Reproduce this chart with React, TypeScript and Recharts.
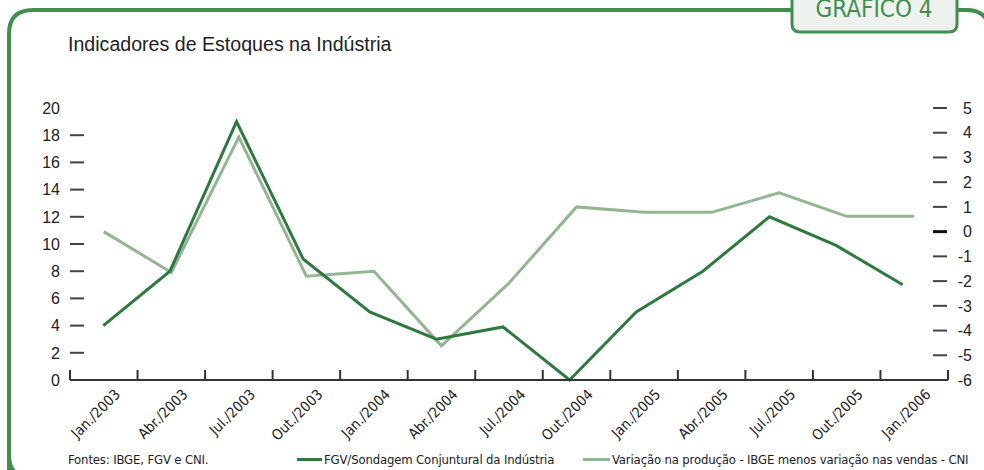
import React from 'react';
import { LineChart, Line, XAxis, YAxis } from 'recharts';

const categories = [
  'Jan./2003', 'Abr./2003', 'Jul./2003', 'Out./2003',
  'Jan./2004', 'Abr./2004', 'Jul./2004', 'Out./2004',
  'Jan./2005', 'Abr./2005', 'Jul./2005', 'Out./2005',
  'Jan./2006',
];

// FGV/Sondagem Conjuntural da Indústria (eixo esquerdo)
const fgvSondagem = [4, 8, 19, 8.9, 5, 3, 3.9, 0, 5, 8, 12, 9.9, 7];
// Variação na produção - IBGE menos variação nas vendas - CNI (eixo direito)
const producaoMenosVendas = [0, -1.65, 3.82, -1.8, -1.6, -4.62, -2.08, 1.0, 0.78, 0.78, 1.57, 0.62, 0.62];

const leftTicks = [0, 2, 4, 6, 8, 10, 12, 14, 16, 18, 20];
const rightTicks = [-6, -5, -4, -3, -2, -1, 0, 1, 2, 3, 4, 5];

const DARK = '#2d7a3f';
const LIGHT = '#94b592';
const FRAME = '#3f8f4f';
const NARROW = '"Liberation Sans Narrow", "DejaVu Sans Condensed", "Liberation Sans", sans-serif';
const SANS = '"Liberation Sans", Arial, sans-serif';

// plot box (page coords)
const PLOT_LEFT = 70;
const PLOT_RIGHT = 948;
const PLOT_BOTTOM = 380;
const BAND = (PLOT_RIGHT - PLOT_LEFT) / categories.length;

const data = categories.map((c, i) => ({
  mes: c,
  fgv: fgvSondagem[i],
  cni: producaoMenosVendas[i],
}));

const LeftTick = (props: any) => {
  const { y, payload } = props;
  const v = payload.value;
  return (
    <g>
      {v !== 0 && v !== 20 && (
        <line x1={PLOT_LEFT} x2={PLOT_LEFT + 14} y1={y} y2={y} stroke="#444" strokeWidth={2} />
      )}
      <text x={60} y={y} dy="0.36em" textAnchor="end" fontSize={16} fontFamily={SANS} fill="#222">
        {v}
      </text>
    </g>
  );
};

const RightTick = (props: any) => {
  const { y, payload } = props;
  const v = payload.value;
  return (
    <g>
      {v !== -6 && (
        <line
          x1={PLOT_RIGHT - 15}
          x2={PLOT_RIGHT - 1}
          y1={y}
          y2={y}
          stroke={v === 0 ? '#111' : '#444'}
          strokeWidth={v === 0 ? 3 : 2}
        />
      )}
      <text x={972} y={y} dy="0.36em" textAnchor="end" fontSize={16} fontFamily={SANS} fill="#222">
        {v}
      </text>
    </g>
  );
};

const XTick = (props: any) => {
  const { x, payload } = props;
  const i = categories.indexOf(payload.value);
  const half = BAND / 2;
  return (
    <g>
      <line x1={x - half} x2={x - half} y1={PLOT_BOTTOM} y2={PLOT_BOTTOM - 10} stroke="#333" strokeWidth={2} />
      {i === categories.length - 1 && (
        <line x1={x + half} x2={x + half} y1={PLOT_BOTTOM} y2={PLOT_BOTTOM - 10} stroke="#333" strokeWidth={2} />
      )}
      <text
        transform={`translate(${x + 10},388) rotate(-45)`}
        textAnchor="end"
        dy="0.71em"
        fontSize={14.5}
        fontFamily={NARROW}
        fill="#222"
      >
        {payload.value}
      </text>
    </g>
  );
};

const App: React.FC = () => {
  return (
    <div
      style={{
        position: 'absolute',
        left: 0,
        top: 0,
        width: 984,
        height: 470,
        overflow: 'hidden',
        background: '#fff',
      }}
    >
      {/* moldura, título e aba */}
      <svg width={984} height={470} style={{ position: 'absolute', left: 0, top: 0 }}>
        <path
          d="M 9 500 L 9 455 Q 9 478 32 478 M 9 460 L 9 34 Q 9 10 33 10 L 966 10 Q 990 10 990 34 L 990 480"
          fill="none"
          stroke={FRAME}
          strokeWidth={4}
        />
        <path
          d="M 792 -10 L 792 24 Q 792 32 800 32 L 949 32 Q 957 32 957 24 L 957 -10"
          fill="#eef2ee"
          stroke={FRAME}
          strokeWidth={3}
        />
        <text x={874} y={17} textAnchor="middle" fontSize={24} fontFamily={NARROW} fill={FRAME}>
          GRÁFICO 4
        </text>
        <text x={68} y={51} fontSize={19.6} fontFamily={SANS} fill="#222">
          Indicadores de Estoques na Indústria
        </text>
      </svg>

      <div style={{ position: 'absolute', left: 0, top: 0 }}>
        <LineChart width={984} height={470} data={data} margin={{ top: 108, right: 0, bottom: 30, left: 20 }}>
          <XAxis
            dataKey="mes"
            xAxisId="main"
            scale="band"
            interval={0}
            height={60}
            tickLine={false}
            axisLine={{ stroke: '#333', strokeWidth: 2 }}
            tick={<XTick />}
          />
          <XAxis dataKey="mes" xAxisId="fgv" scale="band" hide height={0} padding={{ left: 0, right: 12 }} />
          <YAxis
            yAxisId="left"
            domain={[0, 20]}
            ticks={leftTicks}
            interval={0}
            width={50}
            axisLine={false}
            tickLine={false}
            tick={<LeftTick />}
          />
          <YAxis
            yAxisId="right"
            orientation="right"
            domain={[-6, 5]}
            ticks={rightTicks}
            interval={0}
            width={36}
            axisLine={false}
            tickLine={false}
            tick={<RightTick />}
          />
          <Line
            xAxisId="main"
            yAxisId="right"
            dataKey="cni"
            stroke={LIGHT}
            strokeWidth={3}
            dot={false}
            activeDot={false}
            isAnimationActive={false}
          />
          <Line
            xAxisId="fgv"
            yAxisId="left"
            dataKey="fgv"
            stroke={DARK}
            strokeWidth={3}
            dot={false}
            activeDot={false}
            isAnimationActive={false}
          />
        </LineChart>
      </div>

      {/* fonte e legenda */}
      <div
        style={{
          position: 'absolute',
          left: 0,
          top: 451,
          width: 984,
          height: 19,
          fontFamily: NARROW,
          fontSize: 13,
          letterSpacing: -0.15,
          color: '#222',
          whiteSpace: 'nowrap',
        }}
      >
        <span style={{ position: 'absolute', left: 68, top: 1 }}>Fontes: IBGE, FGV e CNI.</span>
        <span style={{ position: 'absolute', left: 297, top: 1, display: 'flex', alignItems: 'center' }}>
          <span style={{ display: 'inline-block', width: 25, height: 3, background: DARK, marginRight: 2 }} />
          FGV/Sondagem Conjuntural da Indústria
        </span>
        <span style={{ position: 'absolute', left: 583, top: 1, display: 'flex', alignItems: 'center' }}>
          <span style={{ display: 'inline-block', width: 27, height: 3, background: LIGHT, marginRight: 2 }} />
          Variação na produção - IBGE menos variação nas vendas - CNI
        </span>
      </div>
    </div>
  );
};

export default App;
